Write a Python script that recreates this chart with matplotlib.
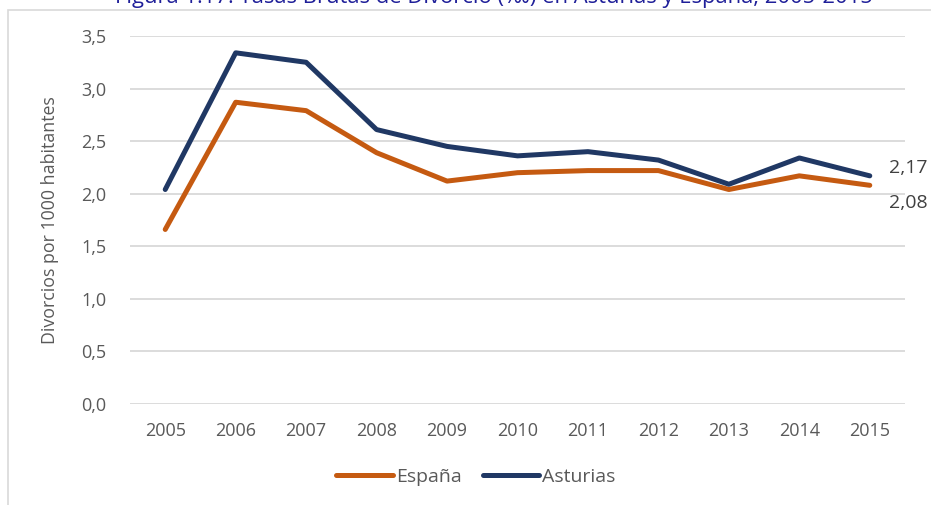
import numpy as np
import matplotlib
matplotlib.use("Agg")
from matplotlib import pyplot as plt
from matplotlib.ticker import FuncFormatter, MultipleLocator
from matplotlib.patches import Rectangle

plt.rcParams['font.family'] = ['Open Sans', 'DejaVu Sans']

years = [2005, 2006, 2007, 2008, 2009, 2010, 2011, 2012, 2013, 2014, 2015]
espana = [1.66, 2.87, 2.79, 2.39, 2.12, 2.20, 2.22, 2.22, 2.04, 2.17, 2.08]
asturias = [2.04, 3.34, 3.25, 2.61, 2.45, 2.36, 2.40, 2.32, 2.09, 2.34, 2.17]

title = "Figura 1.17. Tasas Brutas de Divorcio (‰) en Asturias y España, 2005-2015"
ylabel = "Divorcios por 1000 habitantes"

c_esp = '#C55A11'
c_ast = '#203864'
grey = '#595959'

fig = plt.figure(figsize=(9.31, 5.05), dpi=100)
ax = fig.add_axes([130/931, 101/505, 775/931, 368/505])

# chart frame
fig.patches.append(Rectangle((8/931, -0.1), 1.0, 1 - 10/505 + 0.1, transform=fig.transFigure,
                             fill=False, edgecolor='#d9d9d9', linewidth=1.2))

ax.plot(years, espana, color=c_esp, lw=3.6, solid_capstyle='round', label='España')
ax.plot(years, asturias, color=c_ast, lw=3.6, solid_capstyle='round', label='Asturias')

ax.set_xlim(2004.5, 2015.5)
ax.set_ylim(0, 3.5)
ax.set_xticks(years)
ax.yaxis.set_major_locator(MultipleLocator(0.5))
ax.yaxis.set_major_formatter(FuncFormatter(lambda v, p: f"{v:.1f}".replace('.', ',')))
ax.grid(axis='y', color='#d9d9d9', lw=1.3)
ax.set_axisbelow(True)
for s in ax.spines.values():
    s.set_visible(False)
ax.tick_params(length=0, labelsize=13, labelcolor=grey)
ax.tick_params(axis='x', pad=13)
ax.tick_params(axis='y', pad=17)
ax.set_ylabel(ylabel, fontsize=12.8, color=grey, labelpad=16)

# last value labels
ax.annotate(f"{asturias[-1]:.2f}".replace('.', ','), (years[-1], asturias[-1]),
            xytext=(14, 6), textcoords='offset points', fontsize=14, color='#404040',
            va='center', ha='left')
ax.annotate(f"{espana[-1]:.2f}".replace('.', ','), (years[-1], espana[-1]),
            xytext=(14, -13), textcoords='offset points', fontsize=14, color='#404040',
            va='center', ha='left')

leg = fig.legend(loc='center', bbox_to_anchor=(476/931, 1 - 477/505), ncol=2, frameon=False,
                 fontsize=14, handlelength=2.9, handletextpad=0.15, columnspacing=1.1)
for t in leg.get_texts():
    t.set_color(grey)

fig.text(494/931, 1 - 3/505, title, ha='center', va='baseline', fontsize=15.8, color='#1F1F99')

fig.savefig('out.png', dpi=100)
